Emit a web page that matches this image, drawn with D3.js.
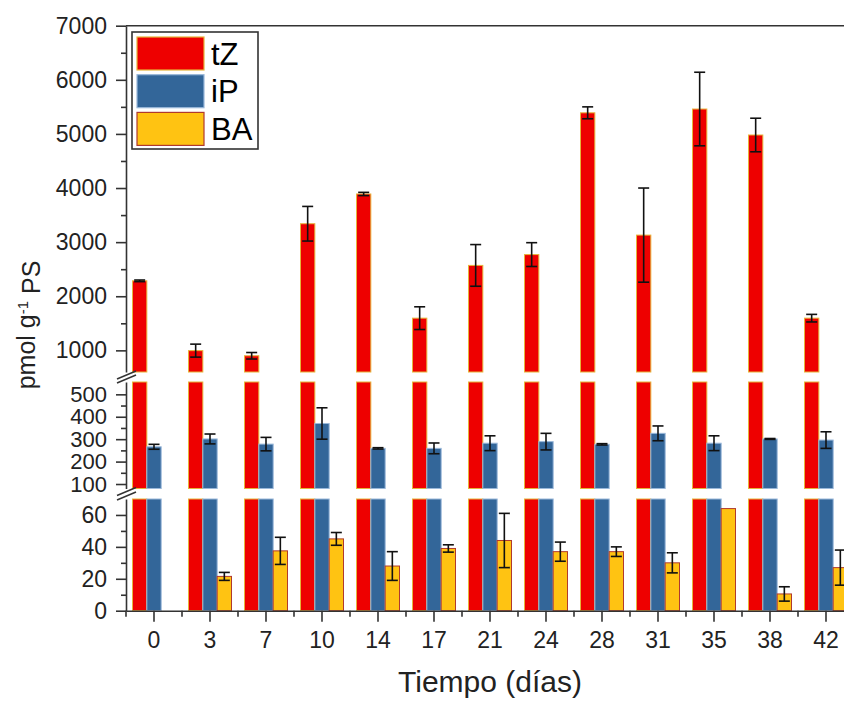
<!DOCTYPE html>
<html>
<head>
<meta charset="utf-8">
<script src="https://cdn.jsdelivr.net/npm/d3@7"></script>
<style>
body { margin: 0; background: #fff; }
svg text { font-family: "Liberation Sans", Arial, sans-serif; fill: #222; }
</style>
</head>
<body>
<script>
"use strict";

// days of sampling
var days = ["0", "3", "7", "10", "14", "17", "21", "24", "28", "31", "35", "38", "42"];

// cytokinin contents, pmol g-1 PS
var tZ    = [2285, 995, 900, 3340, 3890, 1595, 2570, 2770, 5390, 3130, 5460, 4980, 1595];
var tZErr = [15, 120, 60, 320, 30, 210, 385, 220, 110, 870, 680, 310, 70];
var iP    = [266, 301, 278, 370, 259, 259, 282, 289, 277, 326, 282, 301, 296];
var iPErr = [11, 22, 30, 70, 3, 24, 33, 37, 3, 33, 33, 2, 37];
var BA    = [0, 21.5, 37.5, 45, 28, 39, 44, 37, 37, 30, 64, 10.5, 27];
var BAErr = [0, 2.5, 8.5, 4, 9, 2.3, 17, 6, 3, 6.3, 0, 4.5, 11];

var seriesNames = ["tZ", "iP", "BA"];
var seriesColors = ["#ee0000", "#336699", "#ffc312"];
var seriesStrokes = ["#e6b43a", "#9ab8da", "#b03a2e"];

// tick values of the three pieces of the broken axis
var topTicks = [1000, 2000, 3000, 4000, 5000, 6000, 7000];
var topMinor = [1500, 2500, 3500, 4500, 5500, 6500];
var midTicks = [100, 200, 300, 400, 500];
var midMinor = [150, 250, 350, 450];
var lowTicks = [0, 20, 40, 60];
var lowMinor = [10, 30, 50];

var width = 844, height = 701;
var axisX = 126;

var svg = d3.select("body").append("svg")
    .attr("width", width)
    .attr("height", height);

var series = seriesNames.map(function(name, k) {
    var vals = [tZ, iP, BA][k];
    var errs = [tZErr, iPErr, BAErr][k];
    return {
        name: name,
        color: seriesColors[k],
        stroke: seriesStrokes[k],
        data: days.map(function(d, i) { return { day: d, v: vals[i], e: errs[i] }; })
    };
});

var x = d3.scaleBand().domain(days).range([axisX, axisX + days.length * 56]);
var sub = d3.scaleBand().domain(seriesNames).range([-21.5, 21.5]);

// the broken y axis: one linear scale per piece
var segments = [
    { domain: [600, 7000], range: [372, 25.7], ticks: topTicks, minor: topMinor, font: 23 },
    { domain: [80, 555], range: [488.5, 382], ticks: midTicks, minor: midMinor, font: 22 },
    { domain: [0, 70], range: [610.7, 499], ticks: lowTicks, minor: lowMinor, font: 23 }
];

segments.forEach(function(seg) {
    var y = d3.scaleLinear().domain(seg.domain).range(seg.range);
    var lo = seg.domain[0], hi = seg.domain[1];
    var g = svg.append("g");

    // bars, cut at the piece limits
    series.forEach(function(s) {
        g.selectAll(null)
            .data(s.data.filter(function(d) { return d.v > lo; }))
            .enter().append("rect")
            .attr("x", function(d) { return x(d.day) + x.bandwidth() / 2 + sub(s.name); })
            .attr("width", sub.bandwidth())
            .attr("y", function(d) { return y(Math.min(d.v, hi)); })
            .attr("height", function(d) { return y(lo) - y(Math.min(d.v, hi)); })
            .attr("fill", s.color)
            .attr("stroke", s.stroke)
            .attr("stroke-width", 1);
    });

    // error bars where the bar ends inside this piece
    series.forEach(function(s) {
        var eb = g.selectAll(null)
            .data(s.data.filter(function(d) { return d.v > lo && d.v <= hi && d.e > 0; }))
            .enter().append("g")
            .attr("transform", function(d) {
                return "translate(" + (x(d.day) + x.bandwidth() / 2 + sub(s.name) + sub.bandwidth() / 2) + ",0)";
            })
            .attr("stroke", "#111")
            .attr("stroke-width", 1.6);
        eb.append("line")
            .attr("y1", function(d) { return y(d.v + d.e); })
            .attr("y2", function(d) { return y(d.v - d.e); });
        eb.append("line").attr("x1", -5.5).attr("x2", 5.5)
            .attr("y1", function(d) { return y(d.v + d.e); })
            .attr("y2", function(d) { return y(d.v + d.e); });
        eb.append("line").attr("x1", -5.5).attr("x2", 5.5)
            .attr("y1", function(d) { return y(d.v - d.e); })
            .attr("y2", function(d) { return y(d.v - d.e); });
    });

    // axis piece with major and minor ticks
    var ax = g.append("g")
        .attr("transform", "translate(" + axisX + ",0)")
        .call(d3.axisLeft(y).tickValues(seg.ticks).tickFormat(d3.format("d"))
            .tickSize(10).tickPadding(9).tickSizeOuter(0));
    ax.selectAll("text").style("font-size", seg.font + "px");
    g.append("g")
        .attr("transform", "translate(" + axisX + ",0)")
        .call(d3.axisLeft(y).tickValues(seg.minor).tickSize(5).tickFormat(""))
        .select(".domain").remove();
});

svg.selectAll(".domain, .tick line")
    .attr("stroke", "#333")
    .attr("stroke-width", 1.6);

// break marks between the pieces
for (var b = 0; b < segments.length - 1; b++) {
    var yA = segments[b].range[0] + 3;
    var yB = segments[b + 1].range[1] - 3;
    [yA, yB].forEach(function(yy) {
        svg.append("line")
            .attr("x1", axisX - 9).attr("y1", yy + 4)
            .attr("x2", axisX + 10).attr("y2", yy - 4)
            .attr("stroke", "#333")
            .attr("stroke-width", 1.6);
    });
}

// x axis
var xAxis = svg.append("g")
    .attr("transform", "translate(0," + segments[2].range[0] + ")")
    .call(d3.axisBottom(x).tickSize(11).tickPadding(10).tickSizeOuter(0));
xAxis.selectAll("text").style("font-size", "23px");
xAxis.selectAll(".domain, .tick line").attr("stroke", "#333").attr("stroke-width", 1.6);
xAxis.selectAll(".minor")
    .data(days)
    .enter().append("line")
    .attr("x1", function(d) { return x(d); })
    .attr("x2", function(d) { return x(d); })
    .attr("y1", 0).attr("y2", 6)
    .attr("stroke", "#333")
    .attr("stroke-width", 1.6);

// top frame line
svg.append("line")
    .attr("x1", x.range()[0]).attr("x2", x.range()[1])
    .attr("y1", segments[0].range[1]).attr("y2", segments[0].range[1])
    .attr("stroke", "#333")
    .attr("stroke-width", 1.6);

// legend
var legend = svg.append("g");
legend.append("rect")
    .attr("x", 132).attr("y", 32)
    .attr("width", 126).attr("height", 117)
    .attr("fill", "#fff")
    .attr("stroke", "#333")
    .attr("stroke-width", 1.6);
series.forEach(function(s, k) {
    legend.append("rect")
        .attr("x", 137).attr("y", 37 + k * 37.7)
        .attr("width", 67).attr("height", 33)
        .attr("fill", s.color)
        .attr("stroke", s.stroke)
        .attr("stroke-width", 1.2);
    legend.append("text")
        .attr("x", 211).attr("y", 37 + k * 37.7 + 16.5)
        .attr("dy", "0.36em")
        .style("font-size", "31px")
        .style("fill", "#000")
        .text(s.name);
});

// axis titles
svg.append("text")
    .attr("x", 490).attr("y", 692)
    .attr("text-anchor", "middle")
    .style("font-size", "30px")
    .text("Tiempo (días)");

var yTitle = svg.append("text")
    .attr("transform", "translate(35,325) rotate(-90)")
    .attr("text-anchor", "middle")
    .style("font-size", "25px");
yTitle.append("tspan").text("pmol g");
yTitle.append("tspan").attr("dy", "-0.5em").style("font-size", "15px").text("-1");
yTitle.append("tspan").attr("dy", "0.5em").text(" PS");
</script>
</body>
</html>
